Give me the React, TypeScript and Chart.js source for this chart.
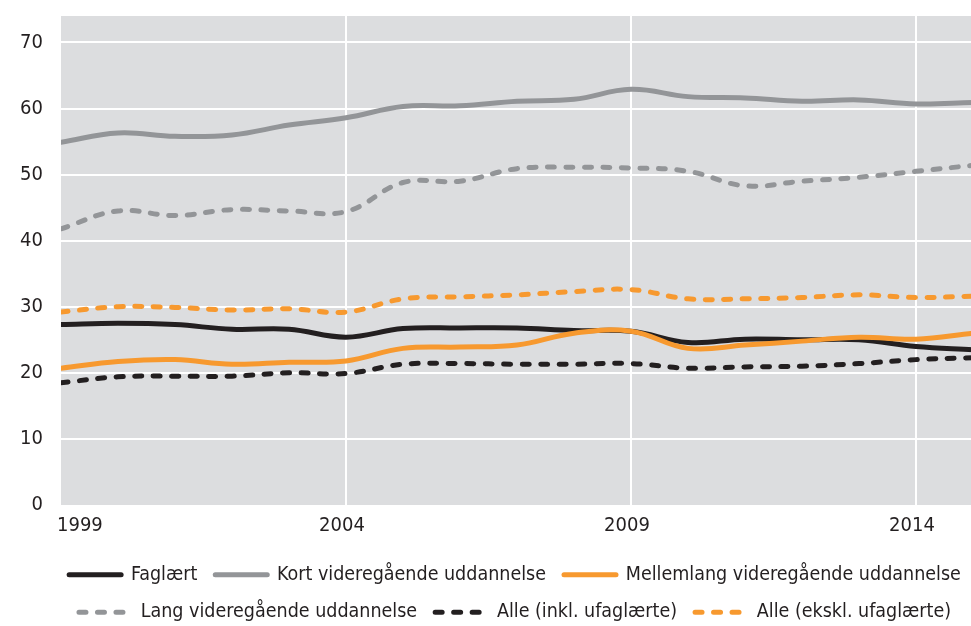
import React, { useEffect, useRef } from 'react';
import { Chart, registerables } from 'chart.js';

Chart.register(...registerables);

const YEARS = [1999, 2000, 2001, 2002, 2003, 2004, 2005, 2006, 2007, 2008, 2009, 2010, 2011, 2012, 2013, 2014, 2015];
const FAGLAERT = [27.3, 27.5, 27.3, 26.6, 26.6, 25.4, 26.7, 26.8, 26.8, 26.4, 26.3, 24.6, 25.1, 25.0, 25.0, 24.0, 23.5];
const KORT = [54.9, 56.3, 55.8, 56.0, 57.5, 58.6, 60.3, 60.4, 61.1, 61.4, 62.9, 61.8, 61.6, 61.1, 61.3, 60.7, 60.9];
const MELLEMLANG = [20.7, 21.7, 22.0, 21.3, 21.6, 21.8, 23.7, 23.9, 24.2, 26.0, 26.3, 23.7, 24.2, 24.8, 25.4, 25.1, 26.0];
const LANG = [41.8, 44.5, 43.8, 44.7, 44.5, 44.4, 48.8, 49.0, 50.9, 51.1, 51.0, 50.5, 48.3, 49.0, 49.6, 50.5, 51.4];
const ALLE_INKL = [18.5, 19.4, 19.5, 19.5, 20.0, 19.9, 21.3, 21.4, 21.3, 21.3, 21.4, 20.7, 20.9, 21.0, 21.4, 22.0, 22.3];
const ALLE_EKSKL = [29.2, 30.0, 29.9, 29.5, 29.7, 29.2, 31.2, 31.5, 31.8, 32.3, 32.6, 31.2, 31.2, 31.4, 31.8, 31.4, 31.6];

const X_TICKS = [1999, 2004, 2009, 2014];
const Y_TICKS = [0, 10, 20, 30, 40, 50, 60, 70];

const FONT = "'DejaVu Sans Condensed', 'Liberation Sans Narrow', 'Roboto Condensed', sans-serif";
const TEXT = '#231f20';
const BLACK = '#231f20';
const GRAY = '#939598';
const ORANGE = '#f7992f';
const PLOT_BG = '#dcdddf';
const DASH = [7, 11.5];
const CLEAR = 'rgba(0,0,0,0)';

const CANVAS_W = 1030;
const CANVAS_H = 632;

const bgPlugin = {
  id: 'plotBg',
  beforeDraw(chart: any) {
    const { ctx, chartArea } = chart;
    ctx.save();
    ctx.fillStyle = PLOT_BG;
    ctx.fillRect(chartArea.left, chartArea.top, chartArea.right - chartArea.left, chartArea.bottom - chartArea.top);
    ctx.restore();
  },
};

export default function App() {
  const ref = useRef<HTMLCanvasElement | null>(null);

  useEffect(() => {
    document.body.style.margin = '0';
    document.body.style.overflow = 'hidden';
    const canvas = ref.current;
    if (!canvas) return;

    const mk = (label: string, data: number[], color: string, dashed: boolean, order: number) => ({
      label,
      data,
      borderColor: color,
      backgroundColor: color,
      borderWidth: 5,
      borderDash: dashed ? DASH : [],
      borderCapStyle: 'round',
      borderJoinStyle: 'round',
      pointRadius: 0,
      pointHoverRadius: 0,
      tension: 0.4,
      fill: false,
      order,
    });

    const chart = new Chart(canvas, {
      type: 'line',
      data: {
        labels: YEARS,
        datasets: [
          mk('Faglært', FAGLAERT, BLACK, false, 2),
          mk('Kort videregående uddannelse', KORT, GRAY, false, 3),
          mk('Mellemlang videregående uddannelse', MELLEMLANG, ORANGE, false, 1),
          mk('Lang videregående uddannelse', LANG, GRAY, true, 4),
          mk('Alle (inkl. ufaglærte)', ALLE_INKL, BLACK, true, 5),
          mk('Alle (ekskl. ufaglærte)', ALLE_EKSKL, ORANGE, true, 6),
        ] as any,
      },
      options: {
        animation: false,
        responsive: false,
        maintainAspectRatio: false,
        layout: { padding: { left: 0, right: 0, top: 16, bottom: 0 } },
        plugins: {
          tooltip: { enabled: false },
          legend: {
            position: 'bottom',
            align: 'center',
            labels: {
              usePointStyle: true,
              pointStyleWidth: 52,
              padding: 18,
              color: TEXT,
              font: { family: FONT, size: 19.5 },
              generateLabels: (ch: any) =>
                ch.data.datasets.map((ds: any, i: number) => ({
                  text: ds.label,
                  strokeStyle: ds.borderColor,
                  fillStyle: ds.borderColor,
                  lineWidth: 5,
                  lineDash: ds.borderDash,
                  lineCap: 'round',
                  pointStyle: 'line',
                  datasetIndex: i,
                  hidden: false,
                  fontColor: TEXT,
                })),
            },
          },
        },
        scales: {
          x: {
            type: 'linear',
            min: 1999,
            max: 2016,
            afterBuildTicks: (scale: any) => {
              scale.ticks = [...X_TICKS, 2016].map((v) => ({ value: v }));
            },
            afterFit: (scale: any) => {
              scale.height = 42;
            },
            ticks: {
              autoSkip: false,
              maxRotation: 0,
              align: 'inner',
              padding: 0,
              labelOffset: -4,
              color: TEXT,
              font: { family: FONT, size: 20 },
              callback: (v: any) => (X_TICKS.includes(Number(v)) ? String(v) : ''),
            },
            grid: {
              drawTicks: true,
              tickLength: 9,
              tickColor: CLEAR,
              lineWidth: 2,
              color: (ctx: any) => (ctx.tick && ctx.tick.value === 1999 ? CLEAR : '#ffffff'),
            },
            border: { display: false },
          },
          y: {
            min: 0,
            max: 74,
            afterBuildTicks: (scale: any) => {
              scale.ticks = Y_TICKS.map((v) => ({ value: v }));
            },
            afterFit: (scale: any) => {
              scale.width = 61;
            },
            ticks: {
              padding: 0,
              color: TEXT,
              font: { family: FONT, size: 20 },
            },
            grid: {
              drawTicks: true,
              tickLength: 18,
              tickColor: CLEAR,
              lineWidth: 2,
              color: (ctx: any) => (ctx.tick && ctx.tick.value === 0 ? CLEAR : '#ffffff'),
            },
            border: { display: false },
          },
        },
      } as any,
      plugins: [bgPlugin],
    });

    return () => chart.destroy();
  }, []);

  return (
    <div style={{ width: 971, height: 626, overflow: 'hidden' }}>
      <canvas
        ref={ref}
        width={CANVAS_W}
        height={CANVAS_H}
        style={{ display: 'block', width: CANVAS_W, height: CANVAS_H }}
      />
    </div>
  );
}
